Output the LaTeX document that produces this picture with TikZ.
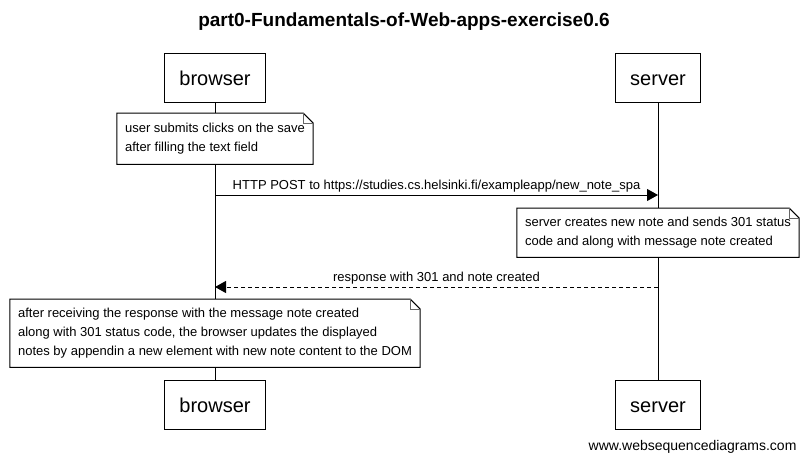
\documentclass[tikz,border=0pt]{standalone}
\usepackage{fontspec}
\setmainfont{Liberation Sans}
\usepackage{tikz}
\usetikzlibrary{positioning, calc}
\usetikzlibrary{arrows.meta}
\tikzstyle{actorbox}=[rectangle,line width=1pt,draw=black,inner xsep=15pt,
minimum height=49pt,text height=17pt,text depth=2pt,
font=\fontsize{20}{24}\selectfont]
\tikzstyle{notebox}=[rectangle,fill=white,align=left,inner xsep=8pt,anchor=north,
font=\fontsize{13}{19}\selectfont]
\tikzstyle{lifeline}=[line width=1pt,draw=black]
\tikzstyle{msgpath}=[line width=1pt,-{Triangle[length=11pt,width=12pt]}]
\tikzstyle{msglabel}=[above,inner sep=2pt,font=\fontsize{13}{15}\selectfont]
\newcommand{\dogear}[1]{%
    \draw[line width=1pt] (#1.north west) -- ([xshift=-10pt]#1.north east)
    -- ([yshift=-10pt]#1.north east) -- (#1.south east) -- (#1.south west) -- cycle;
    \draw[line width=0.6pt, black!60] ([xshift=-10pt]#1.north east)
    |- ([yshift=-10pt]#1.north east);
}

\begin{document}
\begin{tikzpicture}[x=1pt, y=-1pt]
    \useasboundingbox (0,0) rectangle (808,463);
    \node[font=\fontsize{19}{23}\selectfont\bfseries] (title) at (404,22)
    {part0-Fundamentals-of-Web-apps-exercise0.6};
    
    \node[actorbox] (btop) at (215,77.5) {browser};
    \node[actorbox] (stop) at (658,77.5) {server};
    \node[actorbox, below=277pt of btop] (bbot) {browser};
    \node[actorbox, below=277pt of stop] (sbot) {server};
    
    \path[lifeline]
    (btop) edge (bbot)
    (stop) edge (sbot);
    
    \node[notebox, minimum height=51pt] (n1) at (215,113)
    {user submits clicks on the save\\after filling the text field};
    \dogear{n1}
    
    \coordinate (postb) at (215,195);
    \coordinate (posts) at (658,195);
    \draw[msgpath] (postb) -- node[msglabel] {HTTP POST to https://studies.cs.helsinki.fi/exampleapp/new\_note\_spa} (posts);
    
    \node[notebox, minimum height=49pt] (n2) at (658,208)
    {server creates new note and sends 301 status\\code and along with message note created};
    \dogear{n2}
    
    \coordinate (resps) at (658,287);
    \coordinate (respb) at (215,287);
    \draw[msgpath, dash pattern=on 4pt off 3pt] (resps) -- node[msglabel] {response with 301 and note created} (respb);
    
    \node[notebox, minimum height=68pt] (n3) at (215,299)
    {after receiving the response with the message note created\\along with 301 status code, the browser updates the displayed\\notes by appendin a new element with new note content to the DOM};
    \dogear{n3}
    
    \node[anchor=east, font=\fontsize{14}{16}\selectfont] (footer) at (800,447)
    {www.websequencediagrams.com};
\end{tikzpicture}
\end{document}
